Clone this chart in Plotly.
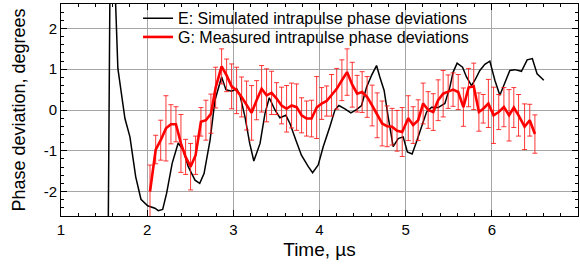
import plotly.graph_objects as go

# E: simulated intrapulse phase deviations (black)
sim_t = [1.538, 1.578, 1.66, 1.742, 1.80, 1.867, 1.928, 2.006, 2.09, 2.129, 2.18, 2.226, 2.29, 2.36, 2.42,
         2.477, 2.555, 2.61, 2.66, 2.73, 2.787, 2.864, 2.914, 2.98, 3.038, 3.077, 3.135, 3.19, 3.238, 3.31,
         3.367, 3.417, 3.483, 3.54, 3.61, 3.657, 3.726, 3.79, 3.87, 3.92, 3.985, 4.043, 4.12, 4.179, 4.225,
         4.295, 4.364, 4.43, 4.488, 4.546, 4.604, 4.662, 4.70, 4.75, 4.797, 4.855, 4.913, 4.971, 5.02, 5.075,
         5.126, 5.184, 5.242, 5.30, 5.377, 5.455, 5.513, 5.551, 5.597, 5.66, 5.706, 5.764, 5.803, 5.861,
         5.919, 5.977, 6.035, 6.093, 6.151, 6.209, 6.267, 6.344, 6.41, 6.47, 6.525, 6.603]
sim_v = [-6.0, 6.0, 1.02, -0.21, -0.66, -1.64, -2.19, -2.35, -2.41, -2.47, -2.44, -2.04, -1.31, -0.81, -0.99,
         -1.39, -1.72, -1.80, -1.56, -0.74, 0.24, 0.81, 0.50, 0.46, 0.52, 0.36, -0.17, -0.82, -1.25, -0.82,
         -0.09, 0.30, 0.0, -0.19, -0.13, -0.33, -0.74, -1.11, -1.39, -1.54, -1.35, -0.90, -0.41, 0.0, 0.11,
         0.03, -0.07, 0.01, 0.11, 0.56, 0.85, 1.09, 0.81, 0.48, -0.17, -0.90, -0.70, -0.66, -1.03, -1.08,
         -0.78, -0.41, -0.05, 0.07, 0.06, 0.16, 0.56, 0.93, 1.15, 1.05, 0.81, 0.60, 0.73, 0.97,
         1.12, 1.20, 0.73, 0.36, 0.65, 0.97, 0.99, 0.95, 1.23, 1.26, 0.89, 0.73]

# G: measured intrapulse phase deviations (red, with error bars)
meas_t = [2.033, 2.099, 2.157, 2.218, 2.276, 2.334, 2.392, 2.446, 2.504, 2.562, 2.624, 2.682, 2.74, 2.795,
          2.864, 2.922, 2.98, 3.038, 3.096, 3.154, 3.212, 3.27, 3.328, 3.386, 3.444, 3.502, 3.56, 3.618,
          3.676, 3.734, 3.792, 3.85, 3.908, 3.967, 4.025, 4.083, 4.14, 4.20, 4.26, 4.32, 4.38, 4.437, 4.495,
          4.553, 4.611, 4.669, 4.727, 4.785, 4.843, 4.90, 4.96, 5.03, 5.087, 5.145, 5.203, 5.261, 5.32,
          5.377, 5.435, 5.493, 5.55, 5.61, 5.67, 5.73, 5.79, 5.85, 5.90, 5.96, 6.02, 6.08, 6.14, 6.20,
          6.255, 6.31, 6.38, 6.44, 6.50]
meas_v = [-2.00, -0.97, -0.74, -0.45, -0.35, -0.35, -0.82, -1.15, -1.39, -1.11, -0.29, -0.25, -0.09, 0.55,
          1.07, 0.85, 0.58, 0.48, 0.32, 0.11, -0.07, 0.24, 0.52, 0.36, 0.42, 0.28, 0.11, 0.03,
          0.11, 0.07, -0.13, -0.21, -0.21, 0.06, 0.16, 0.22, 0.36, 0.52, 0.73, 0.93, 0.62, 0.40, 0.44,
          0.32, 0.11, -0.13, -0.33, -0.40, -0.41, -0.51, -0.54, -0.20, -0.37, -0.25, 0.16, 0.0, -0.05,
          0.24, 0.40, 0.45, 0.50, 0.44, 0.07, 0.55, 0.58, -0.05, 0.03, 0.16, -0.13, -0.05, 0.07, -0.13,
          0.06, -0.13, -0.41, -0.25, -0.59]
meas_err = [0.65, 0.35, 0.49, 0.80, 0.48, 0.43, 0.71, 0.43, 0.57, 0.47, 0.35, 0.49, 0.48, 0.50,
            0.43, 0.40, 0.55, 0.57, 0.49, 0.60, 0.67, 0.48, 0.57, 0.65, 0.53, 0.39, 0.45, 0.57,
            0.55, 0.57, 0.43, 0.43, 0.45, 0.76, 0.39, 0.37, 0.51, 0.50, 0.50, 0.57, 0.55, 0.45, 0.50,
            0.50, 0.50, 0.55, 0.55, 0.50, 0.45, 0.50, 0.60, 0.55, 0.45, 0.50, 0.50, 0.45, 0.45,
            0.50, 0.57, 0.41, 0.41, 0.43, 0.47, 0.47, 0.57, 0.47, 0.35, 0.59, 0.69, 0.43, 0.48, 0.63,
            0.49, 0.51, 0.56, 0.39, 0.47]

x_ticks = [1, 2, 3, 4, 5, 6, 7]
y_ticks = [-2, -1, 0, 1, 2]

font_family = "Liberation Sans, Arial, sans-serif"

fig = go.Figure()
fig.add_trace(go.Scatter(
    x=sim_t, y=sim_v, mode="lines", name="E: Simulated intrapulse phase deviations",
    line=dict(color="black", width=1.5), legend="legend"))
fig.add_trace(go.Scatter(
    x=meas_t, y=meas_v, mode="lines", name="G: Measured intrapulse phase deviations",
    line=dict(color="#ff0000", width=2.6), legend="legend2",
    error_y=dict(type="data", array=meas_err, visible=True, color="rgba(255,20,20,0.85)",
                 thickness=1, width=2.5)))

axis_common = dict(
    showline=True, linecolor="black", linewidth=1, mirror="ticks",
    ticks="inside", ticklen=6, tickcolor="black", tickwidth=1,
    showgrid=True, gridcolor="#a6a6a6", gridwidth=1, zeroline=False,
    tickfont=dict(family=font_family, size=15, color="black"),
    automargin=False,
)

fig.update_xaxes(range=[1, 7], tickvals=x_ticks, ticktext=[str(v) for v in x_ticks],
                 minor=dict(dtick=0.2, ticks="inside", ticklen=3, tickcolor="black", showgrid=False),
                 title=dict(text="Time, µs", font=dict(family=font_family, size=19, color="black"),
                            standoff=5),
                 **axis_common)
fig.update_yaxes(range=[-2.6, 2.6], tickvals=y_ticks, ticktext=[str(v) for v in y_ticks],
                 minor=dict(dtick=0.2, tick0=0, ticks="inside", ticklen=3, tickcolor="black", showgrid=False),
                 title=dict(text="Phase deviation, degrees",
                            font=dict(family=font_family, size=18, color="black"), standoff=13),
                 **axis_common)

legend_common = dict(xanchor="left", yanchor="top", bgcolor="rgba(0,0,0,0)", borderwidth=0,
                     font=dict(family=font_family, size=16, color="black"), itemwidth=30)

# white backdrop of the legend (hides grid lines behind it, like the original)
fig.add_shape(type="rect", xref="paper", yref="paper", x0=0.147, x1=0.810, y0=0.79, y1=1.0,
              fillcolor="white", line=dict(width=0), layer="between")

fig.update_layout(
    width=580, height=266,
    margin=dict(l=61, r=2, t=3, b=50),
    paper_bgcolor="white", plot_bgcolor="white",
    showlegend=True,
    legend=dict(x=0.149, y=1.008, **legend_common),
    legend2=dict(x=0.149, y=0.92, **legend_common),
    font=dict(family=font_family, color="black"),
)

fig.write_html("out.html", config={"displayModeBar": False},
               post_script="document.body.style.margin='0';document.body.style.padding='0';")
